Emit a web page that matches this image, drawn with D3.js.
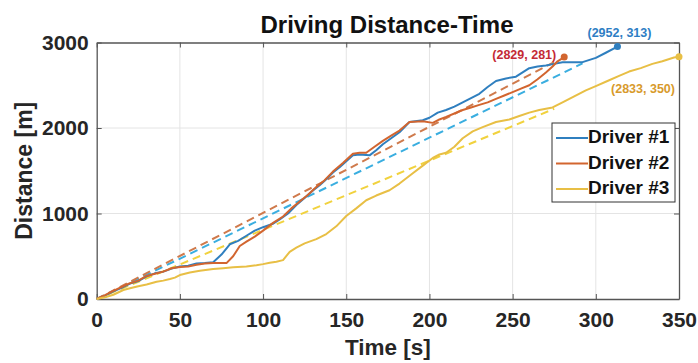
<!DOCTYPE html>
<html>
<head>
<meta charset="utf-8">
<script src="https://d3js.org/d3.v7.min.js"></script>
<style>
  body { margin: 0; background: #fff; }
  text { font-family: "Liberation Sans", Arial, sans-serif; font-weight: bold; }
</style>
</head>
<body>
<div id="chart"></div>
<script>
// data (time [s], distance [m])
var t1 = [0,5,10,15,20,25,30,35,40,45,50,55,60,65,70,75,80,85,90,95,100,106,110,115,120,126,130,134,138,142,146,150,154,158,164,168,172,177,182,188,196,200,205,210,215,220,225,230,235,240,246,252,256,260,265,270,275,280,285,292,300,306,313];
var d1 = [0,40,90,130,180,210,265,300,320,355,380,390,415,420,430,520,640,680,740,800,840,880,930,1000,1100,1200,1270,1330,1400,1480,1540,1610,1680,1690,1680,1740,1810,1880,1950,2070,2090,2120,2180,2210,2250,2300,2350,2400,2480,2550,2580,2600,2650,2700,2720,2730,2750,2770,2770,2770,2820,2880,2952];

var t2 = [0,5,10,15,20,25,30,35,40,45,50,55,60,65,70,75,78,82,86,90,95,100,106,112,117,122,127,132,137,142,148,154,158,162,167,172,177,182,188,196,202,206,210,215,220,225,230,235,240,245,250,255,260,265,270,274,277,281];
var d2 = [0,45,95,140,185,215,270,295,320,360,375,380,400,415,420,420,420,500,620,670,730,800,890,965,1060,1140,1220,1310,1390,1490,1590,1700,1710,1710,1780,1850,1910,1970,2070,2080,2060,2100,2130,2170,2210,2240,2270,2300,2340,2380,2420,2460,2500,2570,2650,2720,2780,2829];

var t3 = [0,5,10,16,20,25,30,36,40,44,47,50,56,62,70,76,82,90,96,100,104,108,112,116,120,125,132,138,144,150,156,162,168,176,182,190,196,202,206,210,215,220,226,232,240,248,254,260,266,274,280,287,294,300,307,314,320,327,334,340,347,350];
var d3v = [0,20,50,105,125,150,170,202,215,233,250,280,310,330,350,360,370,380,395,408,425,436,455,552,600,650,700,760,850,970,1060,1155,1210,1272,1350,1470,1560,1650,1690,1710,1780,1880,1960,2010,2070,2100,2140,2180,2210,2240,2300,2370,2440,2490,2550,2610,2660,2700,2750,2780,2825,2833];

// average-speed reference lines (dashed)
var fitT = [[0,292],[0,276],[0,275]];
var fitD = [[0,2755],[0,2780],[0,2225]];

var names = ["Driver #1","Driver #2","Driver #3"];
var endLabels = ["(2952, 313)","(2829, 281)","(2833, 350)"];
var xTicks = [0,50,100,150,200,250,300,350];
var yTicks = [0,1000,2000,3000];

var colors = ["#2f7fbf","#d2652f","#e8bf45"];
var dashColors = ["#3aaee0","#cf7a4c","#f1d23e"];
var labelColors = ["#2e7ec4","#c42a35","#d89a2c"];

var width = 698, height = 363;
var margin = {top: 42.5, right: 19, bottom: 64, left: 96.7};

var svg = d3.select("#chart").append("svg")
    .attr("width", width)
    .attr("height", height);

var x = d3.scaleLinear().domain([0,350]).range([margin.left, width - margin.right]);
var y = d3.scaleLinear().domain([0,3000]).range([height - margin.bottom, margin.top]);

// grid
svg.append("g").selectAll("line").data(xTicks.slice(1, -1)).enter().append("line")
    .attr("x1", d => x(d)).attr("x2", d => x(d))
    .attr("y1", y(0)).attr("y2", y(3000))
    .attr("stroke", "#e4e4e4").attr("stroke-width", 1);
svg.append("g").selectAll("line").data(yTicks.slice(1, -1)).enter().append("line")
    .attr("x1", x(0)).attr("x2", x(350))
    .attr("y1", d => y(d)).attr("y2", d => y(d))
    .attr("stroke", "#e4e4e4").attr("stroke-width", 1);

// axes (MATLAB style: inward ticks, box)
var fmt = d3.format("d");
var xAxis = d3.axisBottom(x).tickValues(xTicks).tickFormat(fmt).tickSizeInner(-5).tickSizeOuter(0).tickPadding(13);
var yAxis = d3.axisLeft(y).tickValues(yTicks).tickFormat(fmt).tickSizeInner(-5).tickSizeOuter(0).tickPadding(8);

var gx = svg.append("g").attr("transform", "translate(0," + y(0) + ")").call(xAxis);
var gy = svg.append("g").attr("transform", "translate(" + x(0) + ",0)").call(yAxis);
svg.append("g").attr("transform", "translate(0," + y(3000) + ")")
    .call(d3.axisTop(x).tickValues(xTicks).tickSizeInner(-5).tickSizeOuter(0).tickFormat(""));
svg.append("g").attr("transform", "translate(" + x(350) + ",0)")
    .call(d3.axisRight(y).tickValues(yTicks).tickSizeInner(-5).tickSizeOuter(0).tickFormat(""));

svg.selectAll(".domain").attr("stroke", "#555").attr("stroke-width", 1.3);
svg.selectAll(".tick line").attr("stroke", "#555");
svg.selectAll(".tick text").attr("font-size", 21).attr("fill", "#262626");

// dashed fit lines
var line = d3.line().x(d => x(d[0])).y(d => y(d[1]));
for (var i = 0; i < 3; i++) {
    var pts = fitT[i].map((t, k) => [t, fitD[i][k]]);
    svg.append("path").datum(pts)
        .attr("d", line)
        .attr("fill", "none")
        .attr("stroke", dashColors[i])
        .attr("stroke-width", 2)
        .attr("stroke-dasharray", "8,5");
}

// solid series
var series = [[t1,d1],[t2,d2],[t3,d3v]];
series.forEach(function(s, i) {
    var pts = s[0].map((t, k) => [t, s[1][k]]);
    svg.append("path").datum(pts)
        .attr("d", line)
        .attr("fill", "none")
        .attr("stroke", colors[i])
        .attr("stroke-width", 2)
        .attr("stroke-linejoin", "round");
    var last = pts[pts.length - 1];
    svg.append("circle")
        .attr("cx", x(last[0])).attr("cy", y(last[1]))
        .attr("r", 3.5).attr("fill", colors[i]);
});

// end labels
var lbl = [
    {i: 0, dx: 2, dy: -13, anchor: "middle"},
    {i: 1, dx: -8, dy: -1, anchor: "end"},
    {i: 2, dx: -36, dy: 33, anchor: "middle"}
];
lbl.forEach(function(l) {
    var s = series[l.i];
    var n = s[0].length - 1;
    svg.append("text")
        .attr("x", x(s[0][n]) + l.dx)
        .attr("y", y(s[1][n]) + l.dy)
        .attr("text-anchor", l.anchor)
        .attr("dominant-baseline", "middle")
        .attr("font-size", 12.5)
        .attr("fill", labelColors[l.i])
        .text(endLabels[l.i]);
});

// title and axis labels
svg.append("text").attr("x", 387).attr("y", 33)
    .attr("text-anchor", "middle").attr("font-size", 24).attr("fill", "#111")
    .text("Driving Distance-Time");
svg.append("text").attr("x", (x(0) + x(350)) / 2).attr("y", 355)
    .attr("text-anchor", "middle").attr("font-size", 22.5).attr("fill", "#262626")
    .text("Time [s]");
svg.append("text")
    .attr("transform", "translate(32," + ((y(0) + y(3000)) / 2) + ") rotate(-90)")
    .attr("text-anchor", "middle").attr("font-size", 23).attr("fill", "#262626")
    .text("Distance [m]");

// legend
var lg = svg.append("g").attr("transform", "translate(552,123)");
lg.append("rect").attr("width", 123).attr("height", 79)
    .attr("fill", "#fff").attr("stroke", "#333").attr("stroke-width", 1);
names.forEach(function(nm, i) {
    var yy = 15 + i * 25.5;
    lg.append("line").attr("x1", 4).attr("x2", 36).attr("y1", yy).attr("y2", yy)
        .attr("stroke", colors[i]).attr("stroke-width", 2);
    lg.append("text").attr("x", 36).attr("y", yy).attr("dominant-baseline", "middle")
        .attr("font-size", 19).attr("fill", "#111").text(nm);
});
</script>
</body>
</html>
